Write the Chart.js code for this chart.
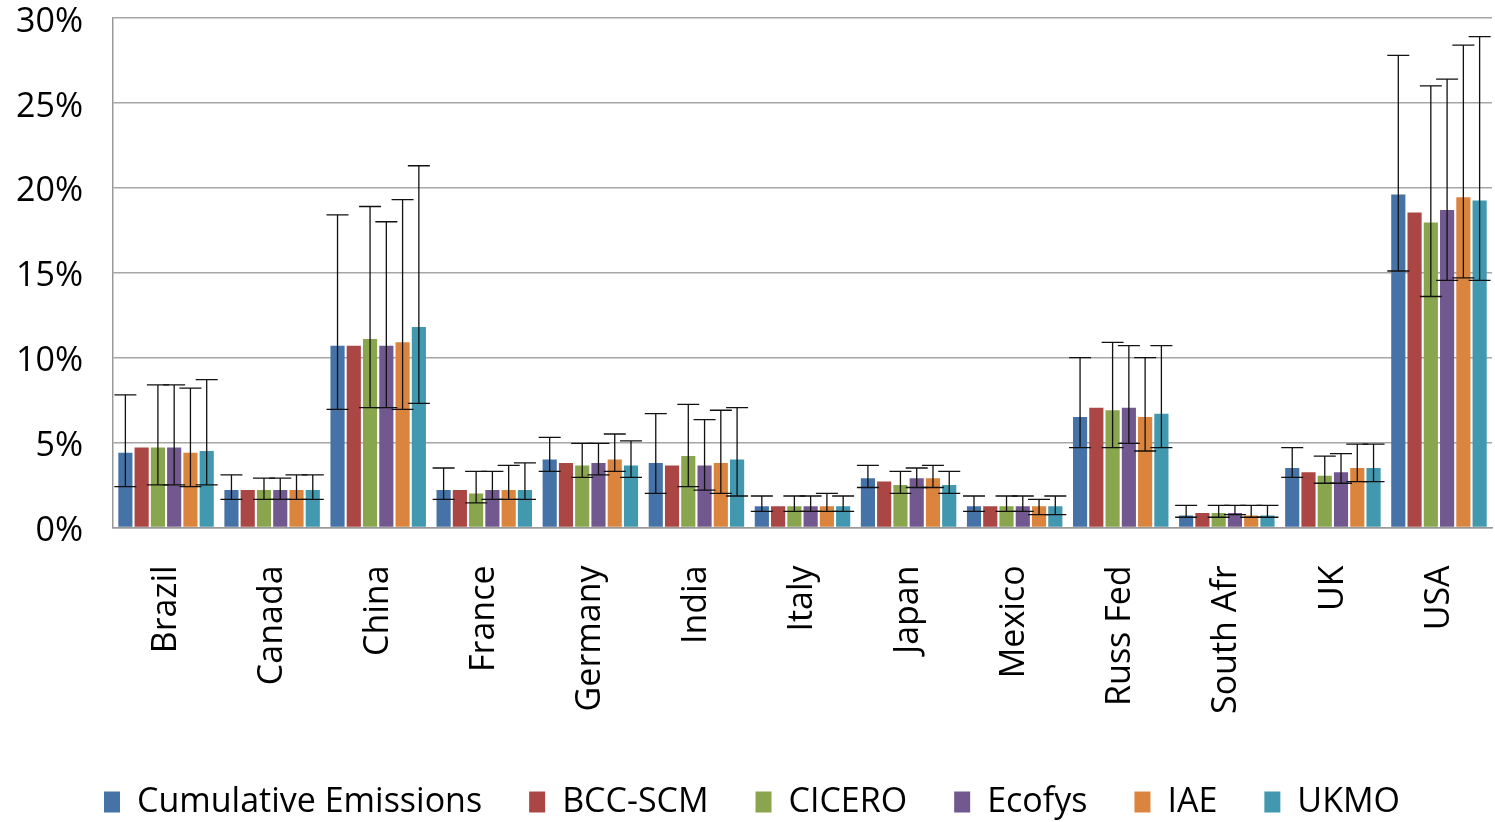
<!DOCTYPE html>
<html>
<head>
<meta charset="utf-8">
<script src="https://cdn.jsdelivr.net/npm/chart.js@4.4.1/dist/chart.umd.min.js"></script>
<style>
  body { margin: 0; background: #fff; }
  #wrap { width: 1495px; height: 822px; }
</style>
</head>
<body>
<div id="wrap"><canvas id="myChart" width="1495" height="822"></canvas></div>
<script>
const countries = ['Brazil', 'Canada', 'China', 'France', 'Germany', 'India', 'Italy', 'Japan', 'Mexico', 'Russ Fed', 'South Afr', 'UK', 'USA'];
const yTicks = [0, 5, 10, 15, 20, 25, 30];

// shares in percent
const cumulative = [4.4, 2.2, 10.7, 2.2, 4.0, 3.8, 1.25, 2.9, 1.25, 6.5, 0.7, 3.5, 19.6];
const bccScm     = [4.7, 2.2, 10.7, 2.2, 3.8, 3.65, 1.25, 2.7, 1.25, 7.05, 0.85, 3.25, 18.55];
const cicero     = [4.7, 2.2, 11.1, 2.0, 3.65, 4.2, 1.25, 2.5, 1.25, 6.9, 0.85, 3.05, 17.95];
const ecofys     = [4.7, 2.2, 10.7, 2.2, 3.8, 3.65, 1.25, 2.9, 1.25, 7.05, 0.85, 3.25, 18.7];
const iae        = [4.4, 2.2, 10.9, 2.2, 4.0, 3.8, 1.25, 2.9, 1.25, 6.5, 0.7, 3.5, 19.45];
const ukmo       = [4.5, 2.2, 11.8, 2.2, 3.65, 4.0, 1.25, 2.5, 1.25, 6.7, 0.7, 3.5, 19.25];

// error bar ranges (high / low)
const cumulativeHigh = [7.8, 3.1, 18.4, 3.5, 5.3, 6.7, 1.85, 3.65, 1.85, 10.0, 1.3, 4.7, 27.8];
const cumulativeLow  = [2.4, 1.65, 6.95, 1.65, 3.3, 2.0, 0.95, 2.35, 0.95, 4.7, 0.6, 2.95, 15.1];
const ciceroHigh = [8.4, 2.9, 18.9, 3.3, 4.95, 7.25, 1.85, 3.3, 1.85, 10.9, 1.3, 4.2, 26.0];
const ciceroLow  = [2.5, 1.65, 7.05, 1.45, 2.95, 2.4, 0.95, 2.0, 0.95, 4.7, 0.6, 2.6, 13.6];
const ecofysHigh = [8.4, 2.9, 18.0, 3.3, 4.95, 6.35, 1.85, 3.5, 1.85, 10.7, 1.3, 4.35, 26.4];
const ecofysLow  = [2.5, 1.65, 7.05, 1.65, 3.1, 2.2, 0.95, 2.35, 0.95, 4.95, 0.75, 2.6, 14.55];
const iaeHigh = [8.2, 3.1, 19.3, 3.65, 5.5, 6.9, 2.0, 3.65, 1.65, 10.0, 1.3, 4.9, 28.4];
const iaeLow  = [2.4, 1.65, 6.95, 1.65, 3.3, 2.0, 0.95, 2.35, 0.75, 4.5, 0.6, 2.7, 14.7];
const ukmoHigh = [8.7, 3.1, 21.3, 3.8, 5.1, 7.05, 1.85, 3.3, 1.85, 10.7, 1.3, 4.9, 28.9];
const ukmoLow  = [2.5, 1.65, 7.3, 1.65, 2.95, 1.85, 0.95, 2.0, 0.75, 4.7, 0.6, 2.7, 14.55];

const series = [
  { label: 'Cumulative Emissions', data: cumulative, color: '#4572A7', hi: cumulativeHigh, lo: cumulativeLow },
  { label: 'BCC-SCM', data: bccScm, color: '#AA4643', hi: null, lo: null },
  { label: 'CICERO', data: cicero, color: '#89A54E', hi: ciceroHigh, lo: ciceroLow },
  { label: 'Ecofys', data: ecofys, color: '#71588F', hi: ecofysHigh, lo: ecofysLow },
  { label: 'IAE', data: iae, color: '#DB843D', hi: iaeHigh, lo: iaeLow },
  { label: 'UKMO', data: ukmo, color: '#4198AF', hi: ukmoHigh, lo: ukmoLow }
];

const errorBars = {
  id: 'errorBars',
  afterDatasetsDraw(chart) {
    const ctx = chart.ctx;
    const y = chart.scales.y;
    ctx.save();
    ctx.strokeStyle = '#111';
    ctx.lineWidth = 1.3;
    series.forEach((s, i) => {
      if (!s.hi) return;
      const meta = chart.getDatasetMeta(i);
      meta.data.forEach((bar, j) => {
        const yh = y.getPixelForValue(s.hi[j]);
        const yl = y.getPixelForValue(s.lo[j]);
        const x = bar.x;
        ctx.beginPath();
        ctx.moveTo(x, yh); ctx.lineTo(x, yl);
        ctx.moveTo(x - 11, yh); ctx.lineTo(x + 11, yh);
        ctx.moveTo(x - 11, yl); ctx.lineTo(x + 11, yl);
        ctx.stroke();
      });
    });
    ctx.restore();
  }
};

new Chart(document.getElementById('myChart'), {
  type: 'bar',
  data: {
    labels: countries,
    datasets: series.map(s => ({
      label: s.label,
      data: s.data,
      backgroundColor: s.color,
      borderWidth: 0,
      categoryPercentage: 0.92,
      barPercentage: 0.87
    }))
  },
  options: {
    responsive: false,
    animation: false,
    layout: { padding: { left: 12, right: 3, top: 18, bottom: -7 } },
    plugins: {
      legend: {
        position: 'bottom',
        labels: {
          boxWidth: 16,
          boxHeight: 21,
          padding: 47,
          color: '#000',
          font: { family: 'Open Sans', size: 34 }
        }
      },
      tooltip: { enabled: false }
    },
    scales: {
      x: {
        grid: { display: false, drawTicks: false },
        border: { color: '#999', width: 1.5 },
        afterFit(axis) { axis.paddingLeft = 0; axis.paddingRight = 0; axis.height -= 14; },
        ticks: {
          minRotation: 90,
          maxRotation: 90,
          padding: 38,
          color: '#000',
          font: { family: 'Open Sans', size: 34 }
        }
      },
      y: {
        min: 0,
        max: 30,
        afterBuildTicks(axis) { axis.ticks = yTicks.map(v => ({ value: v })); },
        afterFit(axis) { axis.width = 101; axis.paddingTop = 0; axis.paddingBottom = 0; },
        grid: { color: '#a6a6a6', lineWidth: 1.5, drawTicks: false },
        border: { color: '#999', width: 1.5 },
        ticks: {
          padding: 30,
          labelOffset: 4,
          color: '#000',
          font: { family: 'Open Sans', size: 34 },
          callback: v => v + '%'
        }
      }
    }
  },
  plugins: [errorBars]
});
</script>
</body>
</html>
